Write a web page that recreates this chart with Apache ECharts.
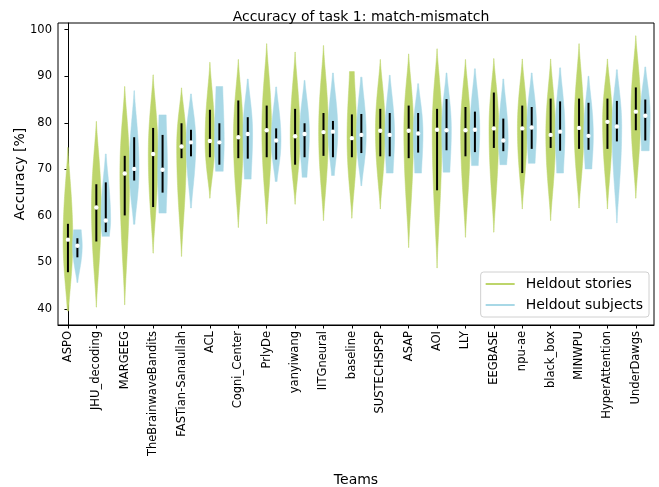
<!DOCTYPE html>
<html><head><meta charset="utf-8">
<script src="https://cdn.jsdelivr.net/npm/echarts@6/dist/echarts.min.js"></script>
<style>html,body{margin:0;padding:0;background:#fff}#c{width:659px;height:487px}</style>
</head><body><div id="c"></div>
<script>
// ---- data ----
const teams = ['ASPO','JHU_decoding','MARGEEG','TheBrainwaveBandits','FASTian-Sanaullah','ACL','Cogni_Center','PrlyDe','yanyiwang','IITGneural','baseline','SUSTECHSPSP','ASAP','AOI','LLY','EEGBASE','npu-ae','black_box','MINWPU','HyperAttention','UnderDawgs'];
const yTicks = [40,50,60,70,80,90,100];

// Heldout stories (green)
const storiesMin    = [39.6,40.4,40.9,52.0,51.3,63.8,57.5,58.3,62.5,59.0,59.5,61.5,53.2,48.8,55.4,56.5,61.5,59.0,61.7,61.5,63.8];
const storiesMax    = [74.7,80.3,87.8,90.3,87.5,93.0,93.6,97.0,95.2,96.6,91.0,93.6,94.8,95.9,93.6,93.8,93.7,93.7,97.0,93.7,98.7];
const storiesQ1     = [47.9,54.5,60.1,61.9,72.4,72.6,72.4,72.6,71.0,72.9,72.6,72.8,72.4,65.5,72.8,74.6,69.2,74.6,74.4,74.4,78.4];
const storiesMedian = [54.9,61.8,69.1,73.3,74.9,76.1,76.9,78.4,77.1,78.0,76.7,78.3,78.3,78.5,78.4,78.8,78.8,77.4,78.9,80.2,82.4];
const storiesQ3     = [58.3,66.8,72.9,78.9,79.9,82.8,84.8,83.7,83.0,82.1,81.8,83.0,83.7,83.0,83.4,86.5,83.7,85.2,85.2,85.2,87.6];
// relative density at the lower / upper end of each violin
const storiesEndLow  = [0.15,0.03,0.03,0.03,0.03,0.03,0.03,0.03,0.03,0.03,0.03,0.03,0.03,0.03,0.03,0.03,0.03,0.03,0.03,0.03,0.03];
const storiesEndHigh = [0.03,0.03,0.03,0.03,0.03,0.03,0.03,0.03,0.03,0.03,0.5,0.03,0.03,0.03,0.03,0.03,0.03,0.03,0.03,0.03,0.03];

// Heldout subjects (blue)
const subjectsMin    = [45.7,55.6,58.2,60.6,61.7,69.6,67.9,67.4,68.3,68.7,66.5,69.2,69.2,69.4,70.8,71.0,71.3,69.2,70.1,58.5,74.0];
const subjectsMax    = [57.0,73.3,86.9,81.7,86.2,87.8,89.4,87.7,89.1,90.7,89.8,90.2,88.4,90.7,91.6,89.4,90.7,91.8,90.0,91.4,92.0];
const subjectsQ1     = [51.1,56.5,67.6,65.0,72.8,71.0,72.3,72.1,72.6,72.6,73.5,72.8,73.6,74.1,73.7,73.9,74.4,74.0,74.2,76.0,76.2];
const subjectsMedian = [53.6,59.0,70.1,69.9,75.8,75.8,77.6,76.2,77.6,78.1,77.4,77.4,77.7,78.4,78.5,76.2,79.0,78.1,77.2,79.2,81.5];
const subjectsQ3     = [55.2,67.2,76.9,77.4,78.5,79.9,81.2,78.8,79.9,80.4,81.9,82.1,82.1,85.1,82.4,80.9,83.4,84.6,84.3,84.7,85.0];
const subjectsEndLow  = [0.1,0.75,0.15,0.75,0.1,0.8,0.7,0.2,0.5,0.3,0.1,0.7,0.7,0.7,0.7,0.7,0.7,0.7,0.7,0.05,0.8];
const subjectsEndHigh = [0.8,0.1,0.05,0.75,0.1,0.7,0.1,0.1,0.1,0.1,0.15,0.1,0.1,0.1,0.1,0.1,0.1,0.1,0.1,0.1,0.1];

function rows(mn, q1, md, q3, mx, el, eh) {
  return teams.map((t, i) => [i, mn[i], q1[i], md[i], q3[i], mx[i], el[i], eh[i]]);
}
const storiesRows = rows(storiesMin, storiesQ1, storiesMedian, storiesQ3, storiesMax, storiesEndLow, storiesEndHigh);
const subjectsRows = rows(subjectsMin, subjectsQ1, subjectsMedian, subjectsQ3, subjectsMax, subjectsEndLow, subjectsEndHigh);

const GREEN = '#bdd56b', BLUE = '#a8d8e6';
const HALF = 0.17;

function profile(t) { const u = 1 - t * t; return u > 0 ? Math.pow(u, 1.5) : 0; }

function makeRender(offset, color) {
  return function (params, api) {
    const i = api.value(0);
    const mn = api.value(1), q1 = api.value(2), md = api.value(3), q3 = api.value(4), mx = api.value(5);
    const el = api.value(6), eh = api.value(7);
    const xc = api.coord([i + offset, md])[0];
    const hw = api.size([HALF, 0])[0];
    const N = 100;
    const left = [], right = [];
    for (let k = 0; k <= N; k++) {
      const y = mn + (mx - mn) * k / N;
      let w;
      if (y <= md) {
        const t = md > mn ? (md - y) / (md - mn) : 0;
        w = el + (1 - el) * profile(t);
      } else {
        const t = mx > md ? (y - md) / (mx - md) : 0;
        w = eh + (1 - eh) * profile(t);
      }
      const py = api.coord([i + offset, y])[1];
      left.push([xc - hw * w, py]);
      right.unshift([xc + hw * w, py]);
    }
    const pts = left.concat(right);
    const yq1 = api.coord([i + offset, q1])[1];
    const yq3 = api.coord([i + offset, q3])[1];
    const ymd = api.coord([i + offset, md])[1];
    return {
      type: 'group',
      children: [
        { type: 'polygon', shape: { points: pts }, style: { fill: color, stroke: color, lineWidth: 0.5 } },
        { type: 'line', shape: { x1: xc, y1: yq1, x2: xc, y2: yq3 }, style: { stroke: '#000', lineWidth: 2 } },
        { type: 'circle', shape: { cx: xc, cy: ymd, r: 2.2 }, style: { fill: '#fff' } }
      ]
    };
  };
}

const chart = echarts.init(document.getElementById('c'), null, { renderer: 'canvas' });
const FONT = 'DejaVu Sans';
chart.setOption({
  animation: false,
  backgroundColor: '#fff',
  textStyle: { fontFamily: FONT },
  title: {
    text: 'Accuracy of task 1: match-mismatch',
    left: 356, top: 5, textAlign: 'center',
    textStyle: { fontFamily: FONT, fontSize: 14, fontWeight: 'normal', color: '#000' }
  },
  legend: {
    orient: 'vertical', right: 10, top: 272,
    data: [{ name: 'Heldout stories', icon: 'rect' }, { name: 'Heldout subjects', icon: 'rect' }],
    itemWidth: 29, itemHeight: 2, itemGap: 7,
    padding: [5, 6, 5, 5],
    backgroundColor: '#fff', borderColor: '#d0d0d0', borderWidth: 1, borderRadius: 3,
    textStyle: { fontFamily: FONT, fontSize: 14, color: '#000', padding: [0, 0, 0, 6] }
  },
  grid: { left: 58, right: 5, top: 23, bottom: 162, containLabel: false, outerBoundsMode: 'none',
    show: true, borderColor: '#000', borderWidth: 1, backgroundColor: 'transparent' },
  xAxis: {
    type: 'value', min: -0.35, max: 20.64,
    name: 'Teams', nameLocation: 'middle', nameGap: 148, nameMoveOverlap: false,
    nameTextStyle: { fontFamily: FONT, fontSize: 14, color: '#000', verticalAlign: 'top' },
    axisLine: { show: true, lineStyle: { color: '#000', width: 1 } },
    axisTick: { show: true, customValues: teams.map((t, i) => i), length: 3.5, lineStyle: { color: '#000' } },
    axisLabel: {
      show: true, customValues: teams.map((t, i) => i), rotate: 90, margin: 6,
      formatter: v => teams[Math.round(v)], fontFamily: FONT, fontSize: 11.5, color: '#000'
    },
    splitLine: { show: false }
  },
  yAxis: {
    type: 'value', min: 36.56, max: 101.44,
    name: 'Accuracy [%]', nameLocation: 'middle', nameGap: 31, nameMoveOverlap: false,
    nameTextStyle: { fontFamily: FONT, fontSize: 14, color: '#000' },
    axisLine: { show: true, lineStyle: { color: '#000', width: 1 } },
    axisTick: { show: true, customValues: yTicks, length: 3.5, lineStyle: { color: '#000' } },
    axisLabel: { show: true, customValues: yTicks, margin: 6, fontFamily: FONT, fontSize: 11.5, color: '#000' },
    splitLine: { show: false }
  },
  series: [
    { name: 'Heldout stories', type: 'custom', renderItem: makeRender(0, GREEN), itemStyle: { color: GREEN },
      encode: { x: 0, y: [1, 5] }, data: storiesRows, clip: true, z: 2 },
    { name: 'Heldout subjects', type: 'custom', renderItem: makeRender(0.333, BLUE), itemStyle: { color: BLUE },
      encode: { x: 0, y: [1, 5] }, data: subjectsRows, clip: true, z: 2 }
  ]
});
</script></body></html>
